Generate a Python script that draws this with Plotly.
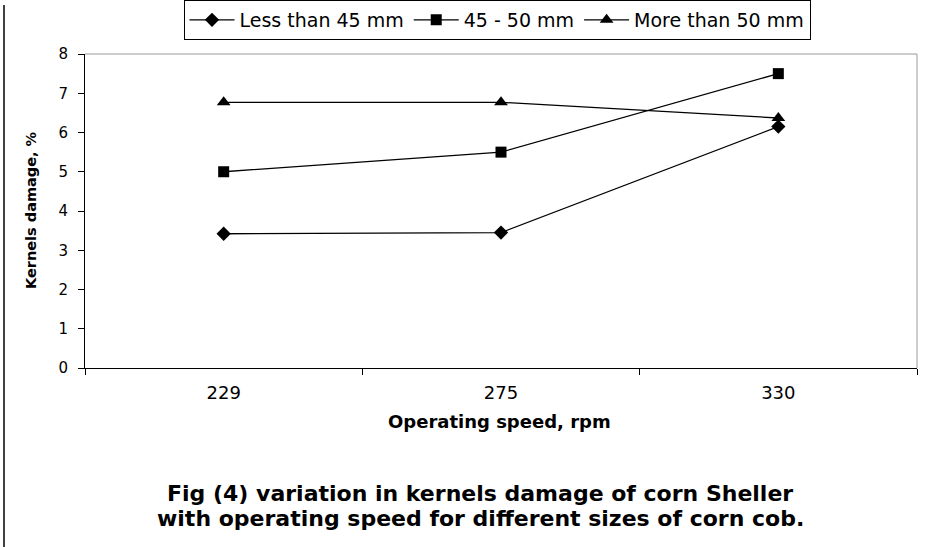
import plotly.graph_objects as go

speeds = ["229", "275", "330"]
less_45 = [3.42, 3.45, 6.15]
mid_45_50 = [5.0, 5.5, 7.5]
more_50 = [6.77, 6.77, 6.37]

series_names = ["Less than 45 mm", "45 - 50 mm", "More than 50 mm"]
symbols = ["diamond", "square", "triangle-up"]
sizes = [11, 11, 12]

FONT = "DejaVu Sans, Verdana, sans-serif"

fig = go.Figure()
for name, vals, sym, sz in zip(series_names, [less_45, mid_45_50, more_50], symbols, sizes):
    fig.add_trace(go.Scatter(
        x=speeds, y=vals, name=name, mode="lines+markers",
        line=dict(color="black", width=1.3),
        marker=dict(symbol=sym, size=sz, color="black"),
    ))

W, H = 934, 547
L, R, T, B = 85, 17, 54, 179
pw, ph = W - L - R, H - T - B

def px(x):
    return (x - L) / pw

def py(y):
    return (H - B - y) / ph

fig.update_layout(
    width=W, height=H,
    margin=dict(l=L, r=R, t=T, b=B, pad=0, autoexpand=False),
    paper_bgcolor="white", plot_bgcolor="white",
    font=dict(family=FONT, color="black", size=15),
    showlegend=True,
    legend=dict(
        orientation="h", x=px(497), xanchor="center", y=py(0), yanchor="top",
        bordercolor="black", borderwidth=1, font=dict(size=19),
        itemwidth=45, tracegroupgap=0,
    ),
    xaxis=dict(
        type="category", showgrid=False, showline=True, linecolor="black", linewidth=1,
        ticks="outside", tickson="boundaries", ticklen=6, tickcolor="black",
        mirror=False, tickfont=dict(size=18), range=[-0.5, 2.5], automargin=False,
        ticklabelstandoff=8,
    ),
    yaxis=dict(
        range=[0, 8], dtick=1, showgrid=False, showline=True, linecolor="black", linewidth=1,
        ticks="outside", ticklen=6, tickcolor="black", tickfont=dict(size=15), zeroline=False,
        automargin=False, ticklabelstandoff=7,
    ),
)

# gray top and right borders of plot area
fig.add_shape(type="line", xref="paper", yref="paper", x0=0, x1=1, y0=1, y1=1,
              line=dict(color="#9a9a9a", width=1))
fig.add_shape(type="line", xref="paper", yref="paper", x0=1, x1=1, y0=0, y1=1,
              line=dict(color="#9a9a9a", width=1))
# outer frame left line
fig.add_shape(type="line", xref="paper", yref="paper", x0=px(4), x1=px(4), y0=py(5), y1=py(547),
              line=dict(color="black", width=1.5))

fig.add_annotation(text="<b>Kernels damage, %</b>", xref="paper", yref="paper",
                   x=px(31), y=py(210), textangle=-90, showarrow=False,
                   font=dict(size=14.5), xanchor="center", yanchor="middle")
fig.add_annotation(text="<b>Operating speed, rpm</b>", xref="paper", yref="paper",
                   x=px(499), y=py(421), showarrow=False,
                   font=dict(size=18), xanchor="center", yanchor="middle")
fig.add_annotation(text="<b>Fig (4) variation in kernels damage of corn Sheller</b>",
                   xref="paper", yref="paper", x=px(480), y=py(493), showarrow=False,
                   font=dict(size=22), xanchor="center", yanchor="middle")
fig.add_annotation(text="<b>with operating speed for different sizes of corn cob.</b>",
                   xref="paper", yref="paper", x=px(480), y=py(518), showarrow=False,
                   font=dict(size=22), xanchor="center", yanchor="middle")

fig.write_html("out.html", config={"displayModeBar": False},
               post_script="document.body.style.margin='0px';document.body.style.overflow='hidden';")
